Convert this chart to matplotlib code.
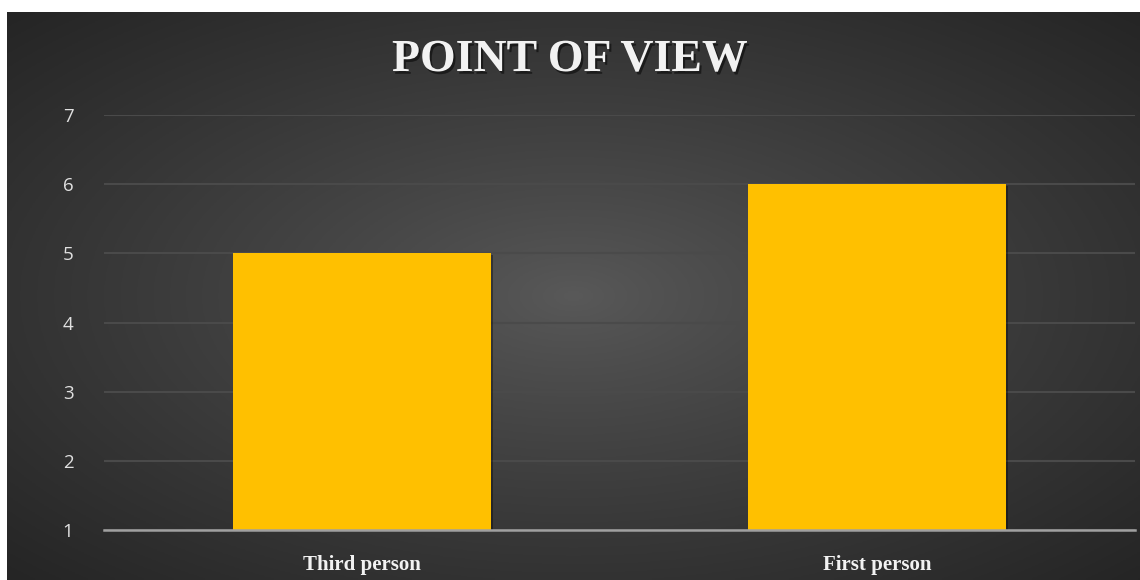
import numpy as np
import matplotlib
matplotlib.use("Agg")
import matplotlib.pyplot as plt
import matplotlib.patheffects as pe

categories = ["Third person", "First person"]
values = [5, 6]
yticks = [1, 2, 3, 4, 5, 6, 7]
title = "POINT OF VIEW"

W, H = 1140, 580
fig = plt.figure(figsize=(W / 100, H / 100), dpi=100, facecolor="white")

# dark radial gradient background panel
bx0, by0 = 7 / W, 0
bg = fig.add_axes([bx0, by0, 1 - bx0, 1 - 12 / H])
bg.set_axis_off()
nx, ny = 400, 200
xx, yy = np.meshgrid(np.linspace(-1, 1, nx), np.linspace(-1, 1, ny))
r = np.sqrt(xx ** 2 + yy ** 2) / np.sqrt(2)
c_center, c_edge = 0.35, 0.145
img = c_center + (c_edge - c_center) * np.clip(r, 0, 1) ** 0.85
bg.imshow(np.dstack([img, img, img]), aspect="auto", extent=[0, 1, 0, 1])
bg.set_xlim(0, 1)
bg.set_ylim(0, 1)

ax = fig.add_axes([104 / W, 1 - 530 / H, (1135 - 104) / W, (530 - 115) / H])
ax.set_facecolor("none")
x = np.arange(len(categories))
bars = ax.bar(x, [v - yticks[0] for v in values], bottom=yticks[0], width=0.5,
              color="#FFC000", zorder=3)
for b in bars:
    b.set_path_effects([pe.SimplePatchShadow(offset=(1.5, -1.5), shadow_rgbFace="black", alpha=0.35),
                        pe.Normal()])
ax.set_xlim(-0.5, len(categories) - 0.5)
ax.set_ylim(yticks[0], yticks[-1])
ax.set_yticks(yticks)
ax.yaxis.grid(True, color="#4a4a4a", linewidth=1.5, zorder=0)
ax.set_axisbelow(True)
for s in ["top", "right", "left"]:
    ax.spines[s].set_visible(False)
ax.spines["bottom"].set_color("#a0a0a0")
ax.spines["bottom"].set_linewidth(1.8)
ax.spines["bottom"].set_zorder(4)
ax.tick_params(axis="y", length=0, pad=22, labelcolor="#e0e0e0", labelsize=13.5)
ax.tick_params(axis="x", length=0, pad=18, labelcolor="#f2f2f2")
ax.set_xticks(x)
ax.set_xticklabels(categories, family="Liberation Serif", fontweight="bold", fontsize=15)
for lab in ax.get_yticklabels():
    lab.set_family("Open Sans")

fig.text(0.5, 1 - 60 / H, title, ha="center", va="center", color="#f2f2f2",
         family="Liberation Serif", fontweight="bold", fontsize=33,
         path_effects=[pe.withSimplePatchShadow(offset=(1.5, -2), shadow_rgbFace="black", alpha=0.5)])

fig.savefig("out.png", dpi=100, facecolor="white")
